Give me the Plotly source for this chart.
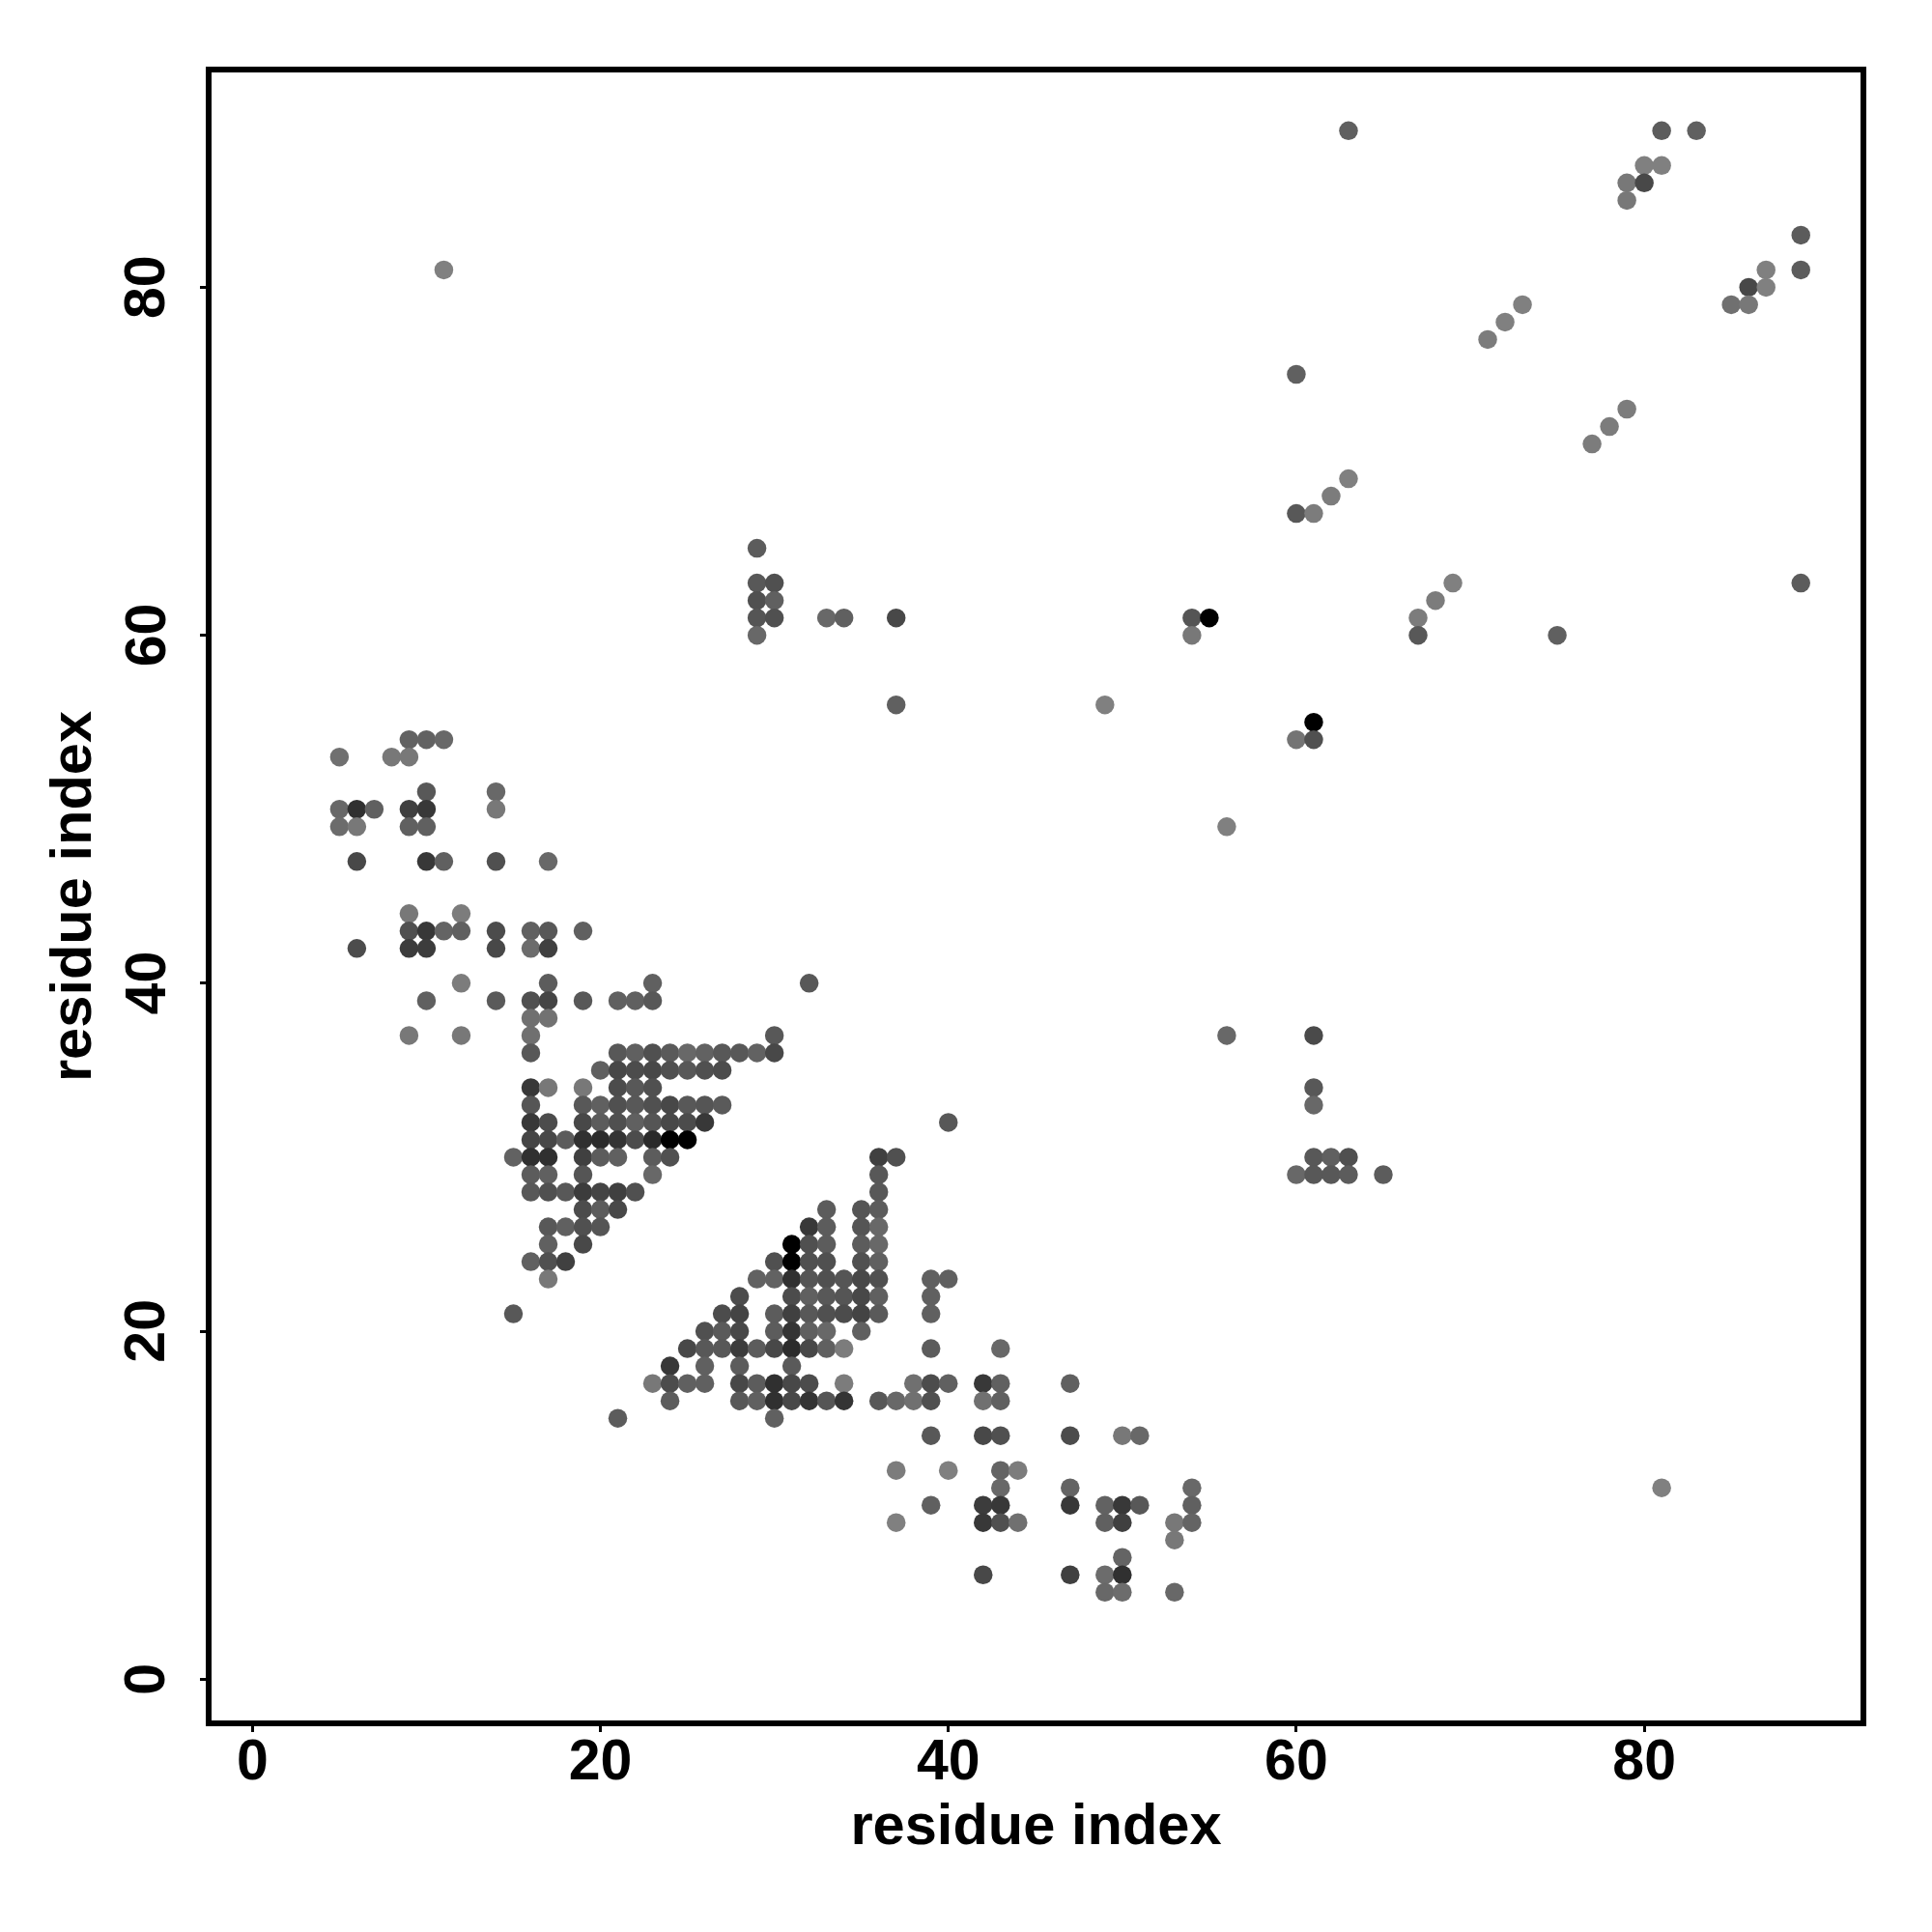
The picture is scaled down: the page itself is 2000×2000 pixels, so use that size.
import plotly.graph_objects as go

row_j = [89, 87, 86, 85, 83, 81, 80, 79, 78, 77, 75, 73, 72, 71, 69, 68, 67, 65, 63, 62, 61, 60, 56, 55, 54, 53, 51, 50, 49, 47, 44, 43, 42, 40, 39, 38, 37, 36, 35, 34, 33, 32, 31, 30, 29, 28, 27, 26, 25, 24, 23, 22, 21, 20, 19, 18, 17, 16, 15, 14, 12, 11, 10, 9, 8, 7, 6, 5]

row_i = [
    [63, 81, 83], [80, 81], [79, 80], [79], [89], [11, 87, 89], [86, 87], [73, 85, 86],
    [72], [71], [60], [79], [78], [77], [63], [62], [60, 61], [29],
    [29, 30, 69, 89], [29, 30, 68], [29, 30, 33, 34, 37, 54, 55, 67], [29, 54, 67, 75],
    [37, 49], [61], [9, 10, 11, 60, 61], [5, 8, 9], [10, 14], [5, 6, 7, 9, 10, 14],
    [5, 6, 9, 10, 56], [6, 10, 11, 14, 17], [9, 12], [9, 10, 11, 12, 14, 16, 17, 19],
    [6, 9, 10, 14, 16, 17], [12, 17, 23, 32], [10, 14, 16, 17, 19, 21, 22, 23], [16, 17],
    [9, 12, 16, 30, 56, 61],
    [16, 21, 22, 23, 24, 25, 26, 27, 28, 29, 30],
    [20, 21, 22, 23, 24, 25, 26, 27],
    [16, 17, 19, 21, 22, 23, 61],
    [16, 19, 20, 21, 22, 23, 24, 25, 26, 27, 61],
    [16, 17, 19, 20, 21, 22, 23, 24, 25, 26, 40],
    [16, 17, 18, 19, 20, 21, 22, 23, 24, 25],
    [15, 16, 17, 19, 20, 21, 23, 24, 36, 37, 61, 62, 63],
    [16, 17, 19, 23, 36, 60, 61, 62, 63, 65],
    [16, 17, 18, 19, 20, 21, 22, 36],
    [19, 20, 21, 33, 35, 36],
    [17, 18, 19, 20, 32, 33, 35, 36],
    [17, 19, 31, 32, 33, 35, 36],
    [16, 17, 18, 30, 31, 32, 33, 35, 36],
    [17, 29, 30, 31, 32, 33, 34, 35, 36, 39, 40],
    [28, 31, 32, 33, 34, 35, 36, 39],
    [15, 27, 28, 30, 31, 32, 33, 34, 35, 36, 39],
    [26, 27, 28, 30, 31, 32, 33, 35],
    [25, 26, 27, 28, 29, 30, 31, 32, 33, 34, 39, 43],
    [24, 26, 28, 31],
    [23, 24, 25, 26, 28, 29, 30, 31, 32, 34, 38, 39, 40, 42, 43, 47],
    [24, 28, 29, 30, 31, 32, 33, 34, 36, 37, 38, 39, 42, 43],
    [21, 30],
    [39, 42, 43, 47, 50, 51],
    [37, 40, 43, 44],
    [43, 47, 54, 81],
    [39, 42, 43, 47, 49, 50, 51, 54],
    [37, 42, 43, 44, 49, 50, 53, 54],
    [53], [50], [42, 47, 49, 50], [49, 50, 53],
]

row_gray = [
    [0x60, 0x5c, 0x60], [0x80, 0x80], [0x78, 0x48], [0x78], [0x5c], [0x80, 0x80, 0x5c], [0x48, 0x80], [0x80, 0x70, 0x78],
    [0x80], [0x7c], [0x60], [0x7c], [0x7c], [0x7c], [0x80], [0x7c], [0x58, 0x7c], [0x5c],
    [0x58, 0x50, 0x80, 0x5c], [0x50, 0x60, 0x7c], [0x55, 0x50, 0x68, 0x60, 0x48, 0x55, 0x00, 0x7c], [0x68, 0x78, 0x58, 0x60],
    [0x60, 0x80], [0x00], [0x62, 0x62, 0x68, 0x74, 0x50], [0x70, 0x78, 0x78], [0x58, 0x68], [0x68, 0x30, 0x60, 0x40, 0x38, 0x78],
    [0x6c, 0x78, 0x60, 0x60, 0x80], [0x48, 0x38, 0x60, 0x50, 0x68], [0x78, 0x7c], [0x50, 0x38, 0x64, 0x60, 0x4c, 0x60, 0x58, 0x60],
    [0x4c, 0x3c, 0x3c, 0x48, 0x6c, 0x40], [0x7c, 0x5c, 0x60, 0x58], [0x60, 0x5a, 0x50, 0x45, 0x58, 0x60, 0x60, 0x58], [0x70, 0x72],
    [0x78, 0x78, 0x70, 0x58, 0x68, 0x4a],
    [0x58, 0x58, 0x60, 0x50, 0x5a, 0x68, 0x62, 0x58, 0x58, 0x62, 0x48],
    [0x60, 0x48, 0x4c, 0x48, 0x50, 0x58, 0x50, 0x4c],
    [0x38, 0x78, 0x78, 0x4c, 0x58, 0x50, 0x58],
    [0x55, 0x58, 0x60, 0x50, 0x58, 0x50, 0x48, 0x58, 0x55, 0x5a, 0x68],
    [0x38, 0x4c, 0x48, 0x5c, 0x50, 0x60, 0x55, 0x48, 0x4c, 0x38, 0x58],
    [0x45, 0x48, 0x5c, 0x30, 0x2c, 0x34, 0x4c, 0x2a, 0x00, 0x00],
    [0x62, 0x30, 0x30, 0x40, 0x5c, 0x60, 0x5c, 0x50, 0x40, 0x50, 0x58, 0x60, 0x50],
    [0x5c, 0x60, 0x55, 0x68, 0x58, 0x68, 0x58, 0x58, 0x5c, 0x5c],
    [0x58, 0x50, 0x58, 0x3c, 0x44, 0x40, 0x50, 0x58],
    [0x4c, 0x5c, 0x48, 0x5c, 0x55, 0x5c],
    [0x58, 0x60, 0x50, 0x55, 0x38, 0x5c, 0x55, 0x68],
    [0x60, 0x48, 0x00, 0x50, 0x5c, 0x5c, 0x68],
    [0x60, 0x50, 0x40, 0x50, 0x00, 0x50, 0x50, 0x50, 0x60],
    [0x78, 0x62, 0x62, 0x30, 0x55, 0x50, 0x55, 0x48, 0x50, 0x60, 0x60],
    [0x4c, 0x4c, 0x60, 0x58, 0x55, 0x48, 0x60, 0x60],
    [0x58, 0x4c, 0x44, 0x5c, 0x40, 0x58, 0x50, 0x4c, 0x44, 0x5a, 0x60],
    [0x50, 0x5a, 0x48, 0x5c, 0x34, 0x60, 0x68, 0x60],
    [0x48, 0x58, 0x58, 0x3c, 0x5c, 0x48, 0x2c, 0x48, 0x60, 0x7c, 0x5c, 0x68],
    [0x38, 0x60, 0x5c, 0x5a],
    [0x78, 0x4c, 0x60, 0x60, 0x48, 0x5c, 0x30, 0x48, 0x4c, 0x7c, 0x70, 0x4c, 0x60, 0x38, 0x60, 0x60],
    [0x5c, 0x58, 0x60, 0x30, 0x48, 0x34, 0x55, 0x34, 0x58, 0x68, 0x70, 0x50, 0x70, 0x60],
    [0x5c, 0x60],
    [0x58, 0x48, 0x50, 0x4c, 0x78, 0x68],
    [0x7c, 0x80, 0x64, 0x7c],
    [0x68, 0x64, 0x68, 0x80],
    [0x60, 0x3c, 0x38, 0x38, 0x62, 0x38, 0x58, 0x60],
    [0x80, 0x38, 0x50, 0x70, 0x60, 0x40, 0x78, 0x64],
    [0x78], [0x64], [0x48, 0x40, 0x6c, 0x30], [0x68, 0x6c, 0x68],
]

axis_label = "residue index"
tick_values = [0, 20, 40, 60, 80]

assert len(row_j) == len(row_i) == len(row_gray)
xs, ys, colors = [], [], []
for j, cols, grays in zip(row_j, row_i, row_gray):
    assert len(cols) == len(grays), j
    for i, g in zip(cols, grays):
        xs.append(i)
        ys.append(j)
        colors.append(f"rgb({g},{g},{g})")

FONT = "Liberation Sans"
TICK_SIZE = 59
TITLE_SIZE = 59.6
tick_font = dict(family=FONT, size=TICK_SIZE, color="black", weight="bold")
title_font = dict(family=FONT, size=TITLE_SIZE, color="black", weight="bold")

fig = go.Figure(go.Scatter(
    x=xs, y=ys, mode="markers",
    marker=dict(size=19.5, color=colors, line=dict(width=0)),
    showlegend=False, cliponaxis=False,
))

axis_common = dict(
    showgrid=False, zeroline=False, showline=True, mirror=True,
    linecolor="black", linewidth=5.5,
    ticks="outside", ticklen=6, tickwidth=3, tickcolor="black",
    tickmode="array", tickvals=tick_values, ticktext=[str(v) for v in tick_values],
)

fig.update_layout(
    width=2000, height=2000,
    margin=dict(l=219, r=74, t=75, b=219, pad=0, autoexpand=False),
    paper_bgcolor="white", plot_bgcolor="white",
    xaxis=dict(range=[-2.35, 92.43], ticklabelstandoff=-22, tickfont=tick_font,
               title=dict(text=axis_label, font=title_font, standoff=10.5),
               **axis_common),
    yaxis=dict(range=[-2.37, 92.35], showticklabels=False,
               title=dict(text=axis_label, font=title_font, standoff=95),
               **axis_common),
)

for v in tick_values:
    fig.add_annotation(
        x=-0.0401, xref="paper", y=v, yref="y", text=str(v), textangle=-90,
        showarrow=False, xanchor="center", yanchor="middle", font=tick_font,
    )

fig.write_html("out.html", post_script="document.body.style.margin='0';",
               config=dict(displayModeBar=False))
